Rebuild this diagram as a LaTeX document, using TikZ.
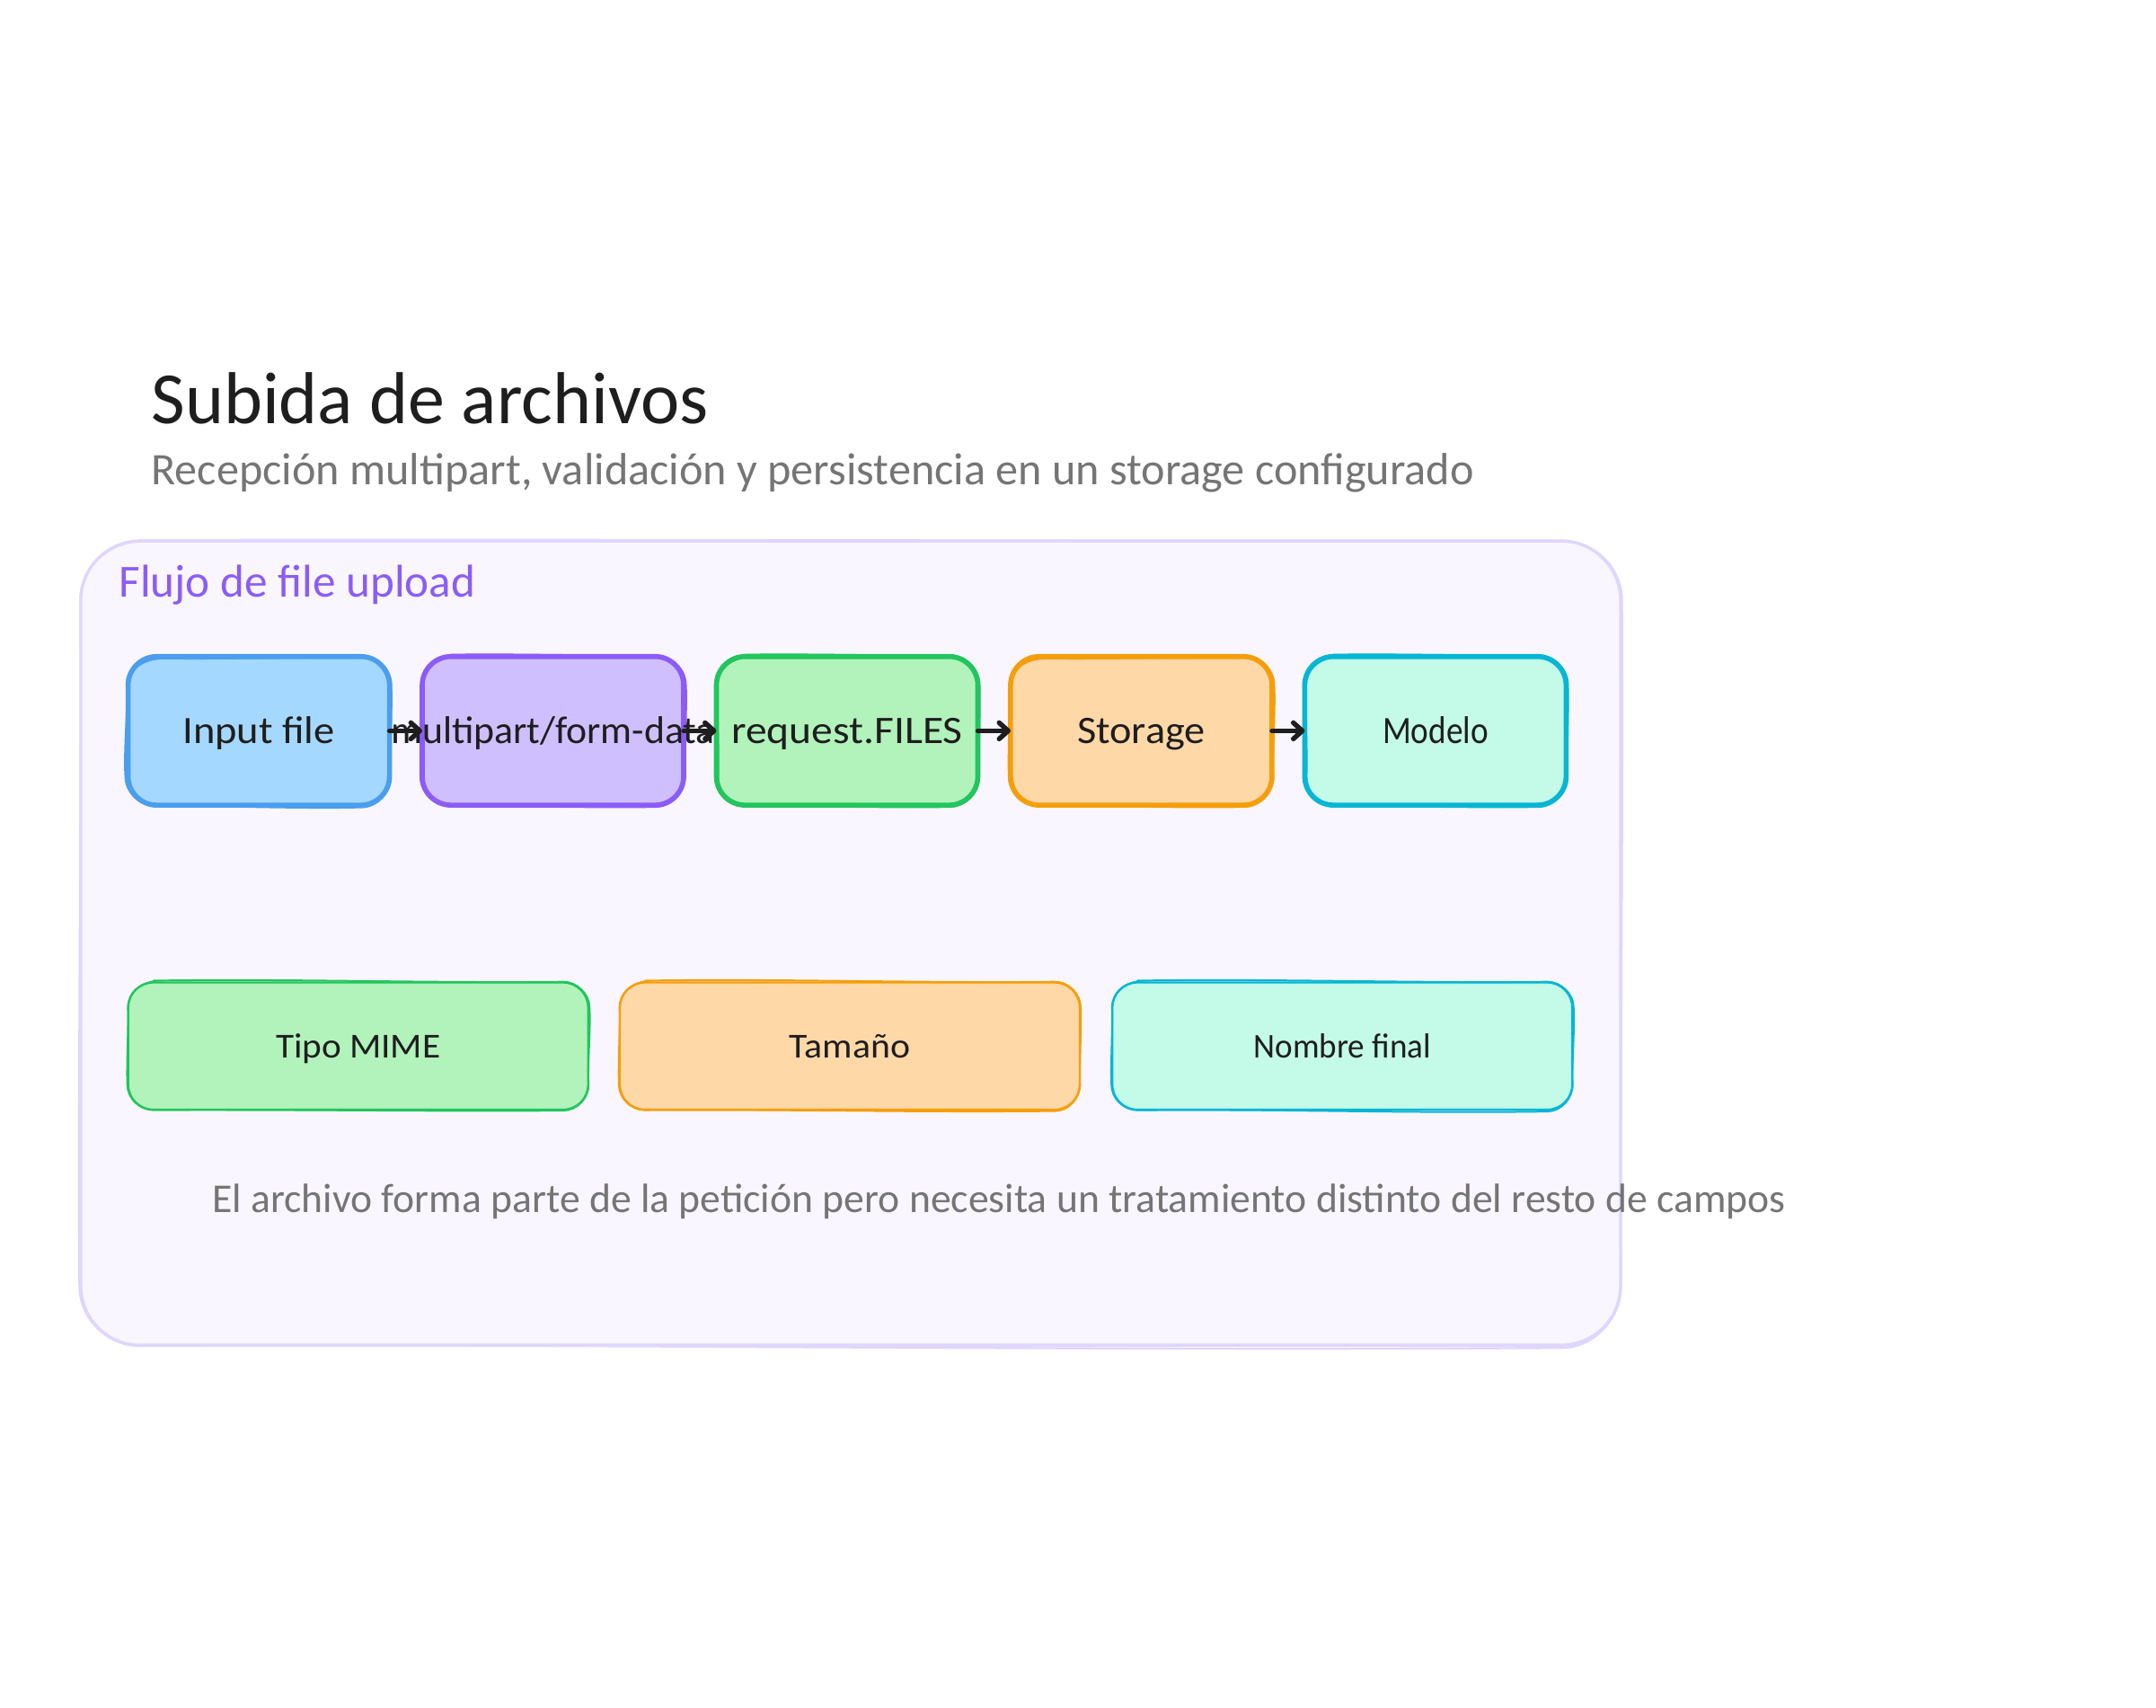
\documentclass[tikz,border=0pt]{standalone}
\usepackage{fontspec}
\usepackage{graphicx}
\setmainfont{Carlito}
\usetikzlibrary{arrows.meta,calc}
\definecolor{ink}{HTML}{1E1E1E}
\definecolor{muted}{HTML}{757575}
\definecolor{panelfill}{HTML}{F9F6FF}
\definecolor{panelline}{HTML}{DFD6FD}
\definecolor{violetline}{HTML}{8B5CF6}
\definecolor{bluefill}{HTML}{A5D8FF}\definecolor{blueline}{HTML}{4A9EED}
\definecolor{violetfill}{HTML}{D0BFFF}
\definecolor{greenfill}{HTML}{B2F2BB}\definecolor{greenline}{HTML}{22C55E}
\definecolor{orangefill}{HTML}{FFD8A8}\definecolor{orangeline}{HTML}{F59E0B}
\definecolor{tealfill}{HTML}{C3FAE8}\definecolor{tealline}{HTML}{06B6D4}
\newcommand{\fitw}[2]{\resizebox{0.4984\dimexpr#1pt\relax}{!}{#2}}
\newcommand{\fith}[3]{\resizebox{0.4984\dimexpr#1pt\relax}{0.4984\dimexpr#2pt\relax}{\vphantom{Aflgp}#3}}
\tikzset{
  px/.style={x=0.4984pt,y=-0.4984pt},
  plainlabel/.style={inner sep=0pt,outer sep=0pt,anchor=center},
  flowbox/.style={inner sep=0pt,outer sep=0pt,rounded corners=16pt,line width=2.8pt,
     minimum width=145.5pt,minimum height=82.7pt,text=ink},
  checkbox/.style={inner sep=0pt,outer sep=0pt,rounded corners=14pt,line width=1.2pt,
     minimum width=256pt,minimum height=70.8pt,text=ink},
  flowarrow/.style={draw=ink,line width=2.7pt,line cap=round,
     -{Straight Barb[length=5pt,width=9pt,line width=2.7pt,round]}},
}
% node, colour, line width, corner radius, top offset, right offset, bottom offset, left offset
\newcommand{\roughbox}[8]{%
  \draw[#2,line width=#3,line cap=round,line join=round]
    ($(#1.north west)+(#4,#5)$)
    .. controls ($(#1.north west)!.35!(#1.north east)+(0,#5*2.2)$) and ($(#1.north west)!.65!(#1.north east)+(0,-#5*.5)$) .. ($(#1.north east)+(-#4,#5*.4)$)
    .. controls ($(#1.north east)+(-#4*.45,#5*.4)$) and ($(#1.north east)+(#6,#4*.45)$) .. ($(#1.north east)+(#6,#4)$)
    .. controls ($(#1.north east)!.35!(#1.south east)+(#6*2,0)$) and ($(#1.north east)!.65!(#1.south east)+(-#6*.5,0)$) .. ($(#1.south east)+(#6*.3,-#4)$)
    .. controls ($(#1.south east)+(#6*.3,-#4*.45)$) and ($(#1.south east)+(-#4*.45,#7)$) .. ($(#1.south east)+(-#4,#7)$)
    .. controls ($(#1.south east)!.35!(#1.south west)+(0,#7*2.2)$) and ($(#1.south east)!.65!(#1.south west)+(0,-#7*.5)$) .. ($(#1.south west)+(#4,#7*.3)$)
    .. controls ($(#1.south west)+(#4*.45,#7*.3)$) and ($(#1.south west)+(#8,-#4*.45)$) .. ($(#1.south west)+(#8,-#4)$)
    .. controls ($(#1.south west)!.35!(#1.north west)+(#8*2,0)$) and ($(#1.south west)!.65!(#1.north west)+(-#8*.5,0)$) .. ($(#1.north west)+(#8*.3,#4)$)
    .. controls ($(#1.north west)+(#8*.3,#4*.45)$) and ($(#1.north west)+(#4*.45,#5)$) .. ($(#1.north west)+(#4+10,#5)$);}
\begin{document}
\begin{tikzpicture}[px]
\useasboundingbox (0,0) rectangle (2407.7,1906.1);
\fill[white] (0,0) rectangle (2407.7,1906.1);

\node[plainlabel,anchor=west,text=ink] (title) at (169,445) {\fitw{622}{Subida de archivos}};
\node[plainlabel,anchor=west,text=muted] (subtitle) at (169,528) {\fitw{1477}{Recepción multipart, validación y persistencia en un storage configurado}};

\node[inner sep=0pt,outer sep=0pt,rounded corners=33pt,fill=panelfill,draw=panelline,line width=1.7pt,
  minimum width=857pt,minimum height=447.5pt] (panel) at (950,1053) {};
\roughbox{panel}{panelline}{1.2pt}{66}{-1}{1.5}{3}{-1.5}

\node[plainlabel,anchor=west,text=violetline] (flowlabel) at (133,653) {\fitw{398}{Flujo de file upload}};

% upper row
\node[flowbox,fill=bluefill,draw=blueline] (input) at (289,816) {};
\node[flowbox,fill=violetfill,draw=violetline] (multi) at (617.5,816) {};
\node[flowbox,fill=greenfill,draw=greenline] (files) at (946,816) {};
\node[flowbox,fill=orangefill,draw=orangeline] (storage) at (1274.5,816) {};
\node[flowbox,fill=tealfill,draw=tealline] (modelo) at (1603,816) {};
\roughbox{input}{blueline}{2pt}{32}{1}{1}{1.5}{-2}
\roughbox{multi}{violetline}{2pt}{32}{-1}{1.5}{1}{-1}
\roughbox{files}{greenline}{2pt}{32}{-1}{1}{1}{1}
\roughbox{storage}{orangeline}{2pt}{32}{1}{1.5}{1}{-1}
\roughbox{modelo}{tealline}{2pt}{32}{-1}{1}{1}{1}

\draw[flowarrow] (input.east) -- (multi.west);
\draw[flowarrow] (multi.east) -- (files.west);
\draw[flowarrow] (files.east) -- (storage.west);
\draw[flowarrow] (storage.east) -- (modelo.west);

\node[plainlabel,text=ink] (inputtext) at ($(input.center)+(0,3)$) {\fith{170}{30}{Input file}};
\node[plainlabel,text=ink] (multitext) at ($(multi.center)+(0,3)$) {\fith{362}{30}{multipart/form-data}};
\node[plainlabel,text=ink] (filestext) at ($(files.center)+(0,3)$) {\fith{258}{30}{request.FILES}};
\node[plainlabel,text=ink] (storagetext) at ($(storage.center)+(0,3)$) {\fith{143}{30}{Storage}};
\node[plainlabel,text=ink] (modelotext) at ($(modelo.center)+(0,3)$) {\fith{118}{30}{Modelo}};

% lower row
\node[checkbox,fill=greenfill,draw=greenline] (mime) at (400,1168) {};
\node[checkbox,fill=orangefill,draw=orangeline] (size) at (949,1168) {};
\node[checkbox,fill=tealfill,draw=tealline] (name) at (1499,1168) {};
\roughbox{mime}{greenline}{1pt}{28}{-2}{1.5}{1}{-1}
\roughbox{size}{orangeline}{1pt}{28}{-2}{1}{1.5}{-1}
\roughbox{name}{tealline}{1pt}{28}{-2}{1.5}{2}{-1}
\node[plainlabel,text=ink] (mimetext) at ($(mime.center)+(0,3)$) {\fith{184}{27}{Tipo MIME}};
\node[plainlabel,text=ink] (sizetext) at ($(size.center)+(0,3)$) {\fith{135}{27}{Tamaño}};
\node[plainlabel,text=ink] (nametext) at ($(name.center)+(0,3)$) {\fith{198}{27}{Nombre final}};

\node[plainlabel,anchor=west,text=muted] (note) at (237,1342) {\fitw{1757}{El archivo forma parte de la petición pero necesita un tratamiento distinto del resto de campos}};
\end{tikzpicture}
\end{document}
